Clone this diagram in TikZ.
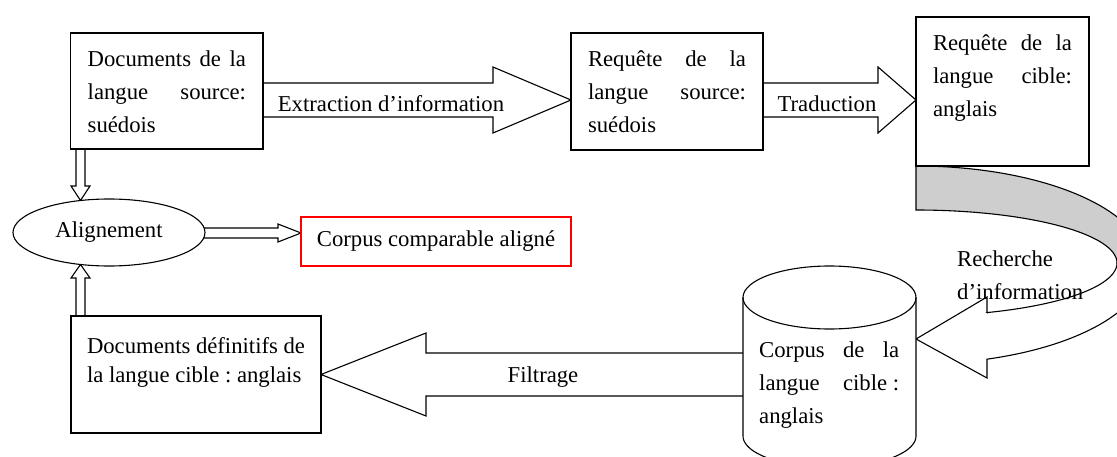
\documentclass[tikz,border=0pt]{standalone}
\usepackage{fontspec}
\setmainfont{Liberation Serif}
\usetikzlibrary{shapes.geometric}
\pgfdeclarelayer{bg}
\pgfsetlayers{bg,main}
\definecolor{greyc}{RGB}{206,206,206}
\frenchspacing
\newcommand{\bxt}[4]{\parbox[c][#1][t]{#2}{\vspace*{#3}#4}}
\newcommand{\jl}[1]{\hbox to\linewidth{\strut #1}}
\newcommand{\lfl}[1]{\hbox to\linewidth{\strut #1\hfil}}
\begin{document}
\begin{tikzpicture}[x=1pt,y=-1pt,
  every node/.style={font=\fontsize{22.7}{33}\selectfont},
  box/.style={draw,fill=white,line width=1.1pt,anchor=north west,inner ysep=0pt,outer sep=0pt,inner xsep=17pt},
  blk/.style={draw,fill=white,line width=1.1pt,line join=miter},
  lbl/.style={anchor=base,inner sep=0pt}]
\useasboundingbox (0,0) rectangle (1117,457);

% boxes
\node[box] (b1) at (70.7,33) {\bxt{116pt}{158.3pt}{10.9pt}{\jl{Documents\hfill de\hfill la}\jl{langue\hfill source:}\lfl{suédois}}};
\node[box] (b2) at (571,33) {\bxt{117pt}{158pt}{10.9pt}{\jl{Requête\hfill de\hfill la}\jl{langue\hfill source:}\lfl{suédois}}};
\node[box] (b3) at (916,17) {\bxt{149pt}{139pt}{10.9pt}{\jl{Requête\hfill de\hfill la}\jl{langue\hfill cible:}\lfl{anglais}}};
\node[box,inner xsep=16pt] (b4) at (71,316) {\bxt{117pt}{218pt}{16.7pt}{\fontsize{22.7}{29}\selectfont\lfl{Documents définitifs de}\lfl{la langue cible : anglais}}};

\node[ellipse,draw,fill=white,line width=1.1pt,minimum width=192pt,minimum height=67pt,inner sep=0pt,outer sep=0pt] (al) at (109,232.5) {Alignement};
\node[draw=red,fill=white,line width=1.1pt,minimum width=270pt,minimum height=49pt,inner sep=0pt,outer sep=0pt] (cc) at (436,241.5) {Corpus comparable aligné};

% cylinder
\coordinate (cyT) at (829.5,297.5);
\coordinate (cyL) at (743,374.5);
\coordinate (cyR) at (916,339);
\filldraw[fill=white,line width=1.1pt] (743,297.5) -- (743,436) -- plot[domain=180:0,samples=60] ({829.5+86.5*cos(\x)},{436+31.5*sin(\x)}) -- (916,297.5);
\draw[line width=1.1pt] (cyT) ellipse [x radius=86.5pt, y radius=31.5pt];
\node[anchor=north west,inner sep=0pt] (cyl) at (759,333.9) {\parbox[t]{140pt}{\jl{Corpus\hfill de\hfill la}\jl{langue\hfill cible~:}\lfl{anglais}}};

% labels
\node[lbl] (t1) at (391,112) {Extraction d’information};
\node[lbl] (t2) at (827,112) {Traduction};
\node[lbl] (t3) at (543,382) {Filtrage};
\node[lbl,anchor=base west] (t4) at (957,267) {Recherche};
\node[lbl,anchor=base west] (t5) at (957,300) {d’information};

\begin{pgfonlayer}{bg}
\draw[blk] (b1.east |- 0,83) -- (493,83) -- (493,67) -- (b2.west |- 0,100) -- (493,133) -- (493,117) -- (b1.east |- 0,117);
\draw[blk] (b2.east |- 0,83) -- (878,83) -- (878,67) -- (b3.west |- 0,100) -- (878,133) -- (878,117) -- (b2.east |- 0,117);
\draw[blk] (cyL |- 0,353) -- (426,353) -- (426,333) -- (b4.east |- 0,374.5) -- (426,416) -- (426,396) -- (cyL |- 0,396);
\draw[blk] (76,0 |- b1.south) -- (76,186) -- (71,186) -- (80.5,200.5) -- (90,186) -- (85,186) -- (85,0 |- b1.south);
\draw[blk] (76,0 |- b4.north) -- (76,278) -- (71,278) -- (80.5,264.5) -- (90,278) -- (85,278) -- (85,0 |- b4.north);
\draw[blk] (200,228) -- (278,228) -- (278,224) -- (cc.west |- 0,233) -- (278,242) -- (278,238) -- (200,238);
% curved arrow (back, shaded)
\filldraw[fill=greyc,line width=1.1pt] plot[domain=-90:0,samples=80] ({916+230*cos(\x)},{265+99*sin(\x)}) -- plot[domain=0:-90,samples=80] ({916+201*cos(\x)},{263+53*sin(\x)}) -- cycle;
% curved arrow (front, white, with head)
\filldraw[fill=white,line width=1.1pt,line join=miter] plot[domain=0:72.02,samples=80] ({916+230*cos(\x)},{265+99*sin(\x)}) -- (987,378) -- (cyR) -- (987,297) -- (987,312.6) -- plot[domain=69.32:0,samples=80] ({916+201*cos(\x)},{263+53*sin(\x)}) -- cycle;
\end{pgfonlayer}
\end{tikzpicture}
\end{document}
